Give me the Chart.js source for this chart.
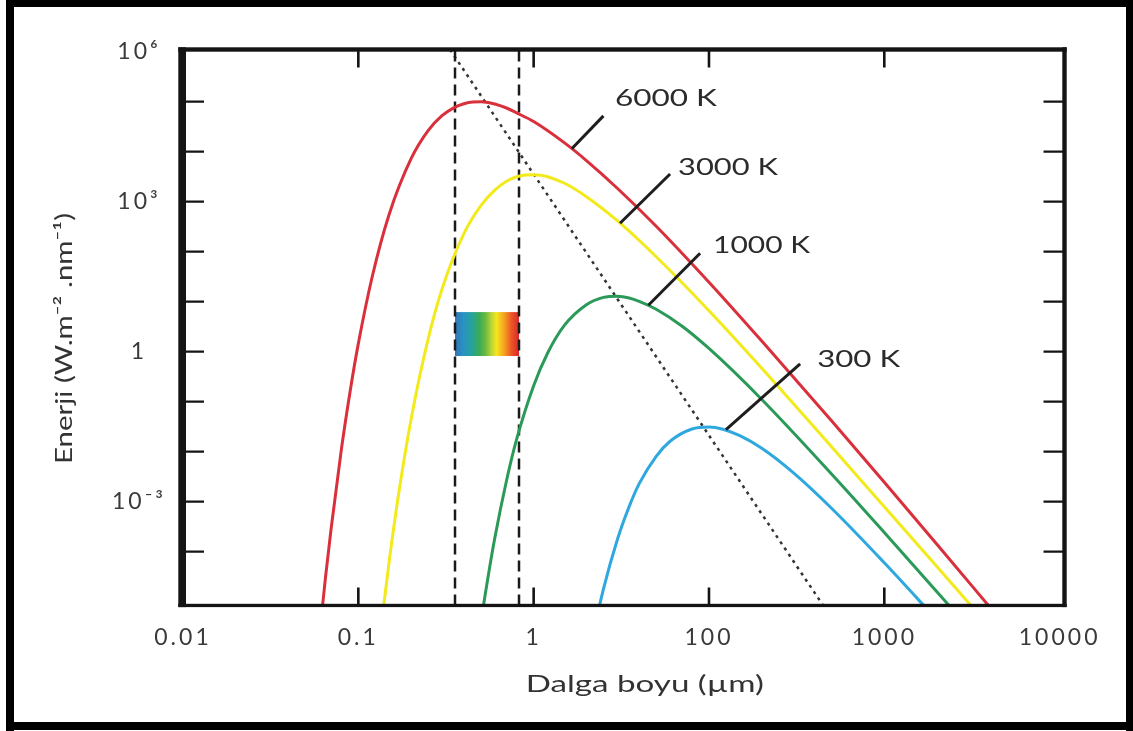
<!DOCTYPE html>
<html>
<head>
<meta charset="utf-8">
<script src="https://cdn.jsdelivr.net/npm/chart.js@4.4.1/dist/chart.umd.min.js"></script>
<style>
  html, body { margin: 0; padding: 0; background: #ffffff; }
  #wrap { position: relative; width: 1133px; height: 731px; }
  canvas { display: block; }
</style>
</head>
<body>
<div id="wrap"><canvas id="c" width="1133" height="731"></canvas></div>
<script>
// ---- Data (wavelength in µm, energy in W·m⁻²·nm⁻¹) ----
const wl6000 = [0.055, 0.06, 0.065, 0.07, 0.08, 0.09, 0.1, 0.12, 0.15, 0.2, 0.25, 0.3, 0.35, 0.4, 0.45, 0.5, 0.55, 0.6, 0.7, 0.8, 1, 1.5, 2, 3, 5, 10, 20, 50, 100, 200, 500, 1000];
const en6000 = [8.7e-8, 2.1e-6, 3.1e-5, 2.95e-4, 0.011, 0.17, 1.45, 31.6, 562, 7240, 2.63e4, 5.25e4, 7.55e4, 9.12e4, 9.89e4, 9.98e4, 9.62e4, 8.99e4, 7.48e4, 5.98e4, 4.01e4, 1.50e4, 6650, 1860, 323, 24.5, 1.63, 0.0414, 2.44e-3, 1.40e-4, 3.06e-6, 1.75e-7];

const wl3000 = [0.13, 0.14, 0.15, 0.17, 0.2, 0.25, 0.3, 0.4, 0.5, 0.6, 0.7, 0.8, 0.9, 1, 1.1, 1.2, 1.5, 2, 3, 5, 10, 20, 50, 100, 200, 500];
const en3000 = [9.5e-7, 9.1e-6, 6.5e-5, 1.48e-3, 0.0447, 1.78, 17.8, 229, 832, 1700, 2570, 3160, 3430, 3470, 3390, 3160, 2340, 1260, 417, 79.4, 6.61, 0.468, 0.0126, 7.94e-4, 5.0e-5, 1.26e-6];

const wl1000 = [0.45, 0.5, 0.55, 0.6, 0.7, 0.8, 1, 1.2, 1.5, 2, 2.5, 3, 3.5, 4, 5, 7, 10, 20, 50, 100, 200, 500];
const en1000 = [2.6e-7, 3.8e-6, 3.2e-5, 1.86e-4, 2.63e-3, 0.0178, 0.209, 0.933, 3.39, 8.71, 12.2, 12.9, 11.9, 10.2, 7.08, 3.27, 1.16, 0.111, 3.59e-3, 2.42e-4, 1.57e-5, 4.1e-7];

const wl300 = [2, 2.2, 2.5, 3, 3.5, 4, 5, 6, 8, 10, 12, 15, 20, 30, 50, 100, 200];
const en300 = [4.5e-7, 2.45e-6, 1.78e-5, 1.74e-4, 7.9e-4, 2.3e-3, 8.1e-3, 0.0162, 0.0285, 0.0312, 0.0282, 0.0209, 0.0117, 3.9e-3, 7.4e-4, 6.0e-5, 4.3e-6];

// Axis ranges and tick labels (as printed in the reference)
const xRange = [0.01, 1066];
const yRange = [8.4e-6, 1.107e6];
const xTickValues = [0.01, 0.1, 1, 10, 100, 1000];
const xTickLabels = ['0.01', '0.1', '1', '100', '1000', '10000'];
const yTickValues = [1e6, 1e3, 1, 1e-3];
const yTickLabels = ['10⁶', '10³', '1', '10⁻³'];

// Annotations (data coordinates)
const curveNames = ['6000 K', '3000 K', '1000 K', '300 K'];
const labelWl = [2.91, 6.66, 10.55, 41.4];
const labelEn = [1.19e5, 4830, 136, 0.714];
const leaderWl = [[1.65, 2.5], [3.11, 6.0], [4.51, 8.9], [12.5, 33.1]];
const leaderEn = [[1.15e4, 5.2e4], [371, 3580], [8.5, 93], [0.0275, 0.568]];
const visibleWl = [0.356, 0.825];
const visibleBoxEn = [0.82, 6.2];
const wienWl = [0.3335, 44.8];
const wienEn = [1.1e6, 8.4e-6];

const xTitle = 'Dalga boyu (µm)';
const yTitle = 'Enerji (W.m⁻² .nm⁻¹)';

// ---- Styles ----
const curveColors = ['#d9303c', '#f3ea1c', '#2b9a58', '#2ea8de'];
const FONT = 'Lato, "Open Sans", "DejaVu Sans", sans-serif';

const pts = (xs, ys) => xs.map((x, i) => ({ x: x, y: ys[i] }));

const datasets = [];
// leader lines (on top)
leaderWl.forEach((xs, i) => {
  datasets.push({ data: pts(xs, leaderEn[i]), borderColor: '#1e1e1e', borderWidth: 3, pointRadius: 0, tension: 0, order: 0 });
});
// Planck curves
[[wl6000, en6000], [wl3000, en3000], [wl1000, en1000], [wl300, en300]].forEach((c, i) => {
  datasets.push({ data: pts(c[0], c[1]), borderColor: curveColors[i], borderWidth: 3, pointRadius: 0,
    cubicInterpolationMode: 'monotone', order: 1 });
});
// visible band dashed lines
visibleWl.forEach(w => {
  datasets.push({ data: pts([w, w], yRange), borderColor: '#1a1a1a', borderWidth: 2.5, borderDash: [11, 6],
    pointRadius: 0, tension: 0, order: 2 });
});
// Wien displacement dotted line
datasets.push({ data: pts(wienWl, wienEn), borderColor: '#333333', borderWidth: 2.5, borderDash: [3, 4.5],
  pointRadius: 0, tension: 0, order: 2 });

function stretchText(ctx, text, x, y, targetW, font, color, align, rot) {
  ctx.save();
  ctx.letterSpacing = '0px';
  ctx.font = font;
  ctx.fillStyle = color;
  ctx.textBaseline = 'middle';
  ctx.textAlign = 'left';
  const w = ctx.measureText(text).width;
  const sx = targetW / w;
  ctx.translate(x, y);
  if (rot) ctx.rotate(rot);
  ctx.scale(sx, 1);
  ctx.fillText(text, align === 'center' ? -w / 2 : 0, 0);
  ctx.restore();
}

const decorPlugin = {
  id: 'decor',
  beforeLayout(chart) { chart.ctx.letterSpacing = '3px'; },
  beforeDraw(chart) {
    const ctx = chart.ctx;
    ctx.letterSpacing = '3px';
    ctx.save();
    ctx.fillStyle = '#ffffff';
    ctx.fillRect(0, 0, chart.width, chart.height);
    ctx.restore();
  },
  beforeDatasetsDraw(chart) {
    const ctx = chart.ctx, xs = chart.scales.x, ys = chart.scales.y;
    const x0 = xs.getPixelForValue(visibleWl[0]), x1 = xs.getPixelForValue(visibleWl[1]);
    const yTop = ys.getPixelForValue(visibleBoxEn[1]), yBot = ys.getPixelForValue(visibleBoxEn[0]);
    const g = ctx.createLinearGradient(x0, 0, x1, 0);
    g.addColorStop(0.00, '#3274b8');
    g.addColorStop(0.13, '#2893c4');
    g.addColorStop(0.26, '#27a39a');
    g.addColorStop(0.38, '#3aab55');
    g.addColorStop(0.48, '#6dba40');
    g.addColorStop(0.57, '#bcd535');
    g.addColorStop(0.65, '#f6e51f');
    g.addColorStop(0.77, '#f5a020');
    g.addColorStop(0.88, '#ec5627');
    g.addColorStop(1.00, '#d8282a');
    ctx.save();
    ctx.fillStyle = g;
    ctx.fillRect(x0, yTop, x1 - x0, yBot - yTop);
    ctx.restore();
  },
  afterDatasetsDraw(chart) {
    const ctx = chart.ctx, xs = chart.scales.x, ys = chart.scales.y;
    const widths = [102, 100, 97, 83];
    curveNames.forEach((t, i) => {
      stretchText(ctx, t, xs.getPixelForValue(labelWl[i]), ys.getPixelForValue(labelEn[i]),
        widths[i], '24px ' + FONT, '#2b2b2b', 'left', 0);
    });
  },
  afterDraw(chart) {
    const ctx = chart.ctx, ca = chart.chartArea, xs = chart.scales.x, ys = chart.scales.y;
    ctx.save();
    ctx.fillStyle = '#141414';
    const h = ca.bottom - ca.top;
    // plot frame
    ctx.fillRect(ca.left - 4.7, ca.top - 2.2, 7.7, h + 3.8);
    ctx.fillRect(ca.left - 4.7, ca.top - 2.2, ca.right - ca.left + 6.9, 4.4);
    ctx.fillRect(ca.right - 2.2, ca.top - 2.2, 4.4, h + 3.8);
    ctx.fillRect(ca.left - 4.7, ca.bottom - 1.7, ca.right - ca.left + 6.9, 3.3);
    // inward tick marks
    ctx.strokeStyle = '#141414';
    ctx.lineWidth = 2.2;
    ctx.beginPath();
    for (let k = -4; k <= 5; k++) {
      const y = ys.getPixelForValue(Math.pow(10, k));
      ctx.moveTo(ca.left, y); ctx.lineTo(ca.left + 21, y);
      ctx.moveTo(ca.right - 21, y); ctx.lineTo(ca.right, y);
    }
    ctx.stroke();
    ctx.lineWidth = 2.6;
    ctx.beginPath();
    for (let k = -1; k <= 2; k++) {
      const x = xs.getPixelForValue(Math.pow(10, k));
      ctx.moveTo(x, ca.bottom); ctx.lineTo(x, ca.bottom - 18);
      ctx.moveTo(x, ca.top); ctx.lineTo(x, ca.top + 18);
    }
    ctx.stroke();
    // outer black border
    ctx.fillStyle = '#000000';
    ctx.fillRect(6, 0, 8, 731);
    ctx.fillRect(6, 0, 1127, 7);
    ctx.fillRect(1126, 0, 7, 731);
    ctx.fillRect(6, 722, 1127, 8);
    ctx.restore();
    // axis titles
    stretchText(ctx, xTitle, (ca.left + ca.right) / 2 + 21, ca.bottom + 79, 238, '23px ' + FONT, '#333333', 'center', 0);
    stretchText(ctx, yTitle, ca.left - 118, (ca.top + ca.bottom) / 2 + 11, 251, '23px ' + FONT, '#333333', 'center', -Math.PI / 2);
  }
};

new Chart(document.getElementById('c'), {
  type: 'line',
  data: { datasets: datasets },
  plugins: [decorPlugin],
  options: {
    responsive: false,
    animation: false,
    events: [],
    layout: { padding: { left: 0, right: 68.5, top: 49.5, bottom: 0 } },
    plugins: { legend: { display: false }, tooltip: { enabled: false } },
    scales: {
      x: {
        type: 'logarithmic', position: 'bottom', min: xRange[0], max: xRange[1],
        grid: { display: false, drawTicks: false }, border: { display: false },
        ticks: { autoSkip: false, maxRotation: 0, minRotation: 0, padding: 18, color: '#3a3a3a',
          font: { family: FONT, size: 23 }, callback: (v, i) => xTickLabels[i] },
        afterBuildTicks: s => { s.ticks = xTickValues.map(v => ({ value: v })); },
        afterFit: s => { s.height = 125.5; }
      },
      y: {
        type: 'logarithmic', position: 'left', min: yRange[0], max: yRange[1],
        grid: { display: false, drawTicks: false }, border: { display: false },
        ticks: { autoSkip: false, crossAlign: 'center', padding: 17, color: '#3a3a3a',
          font: { family: FONT, size: 23 }, callback: (v, i) => yTickLabels[i] },
        afterBuildTicks: s => { s.ticks = yTickValues.map(v => ({ value: v })); },
        afterFit: s => { s.width = 183; }
      }
    }
  }
});
</script>
</body>
</html>
